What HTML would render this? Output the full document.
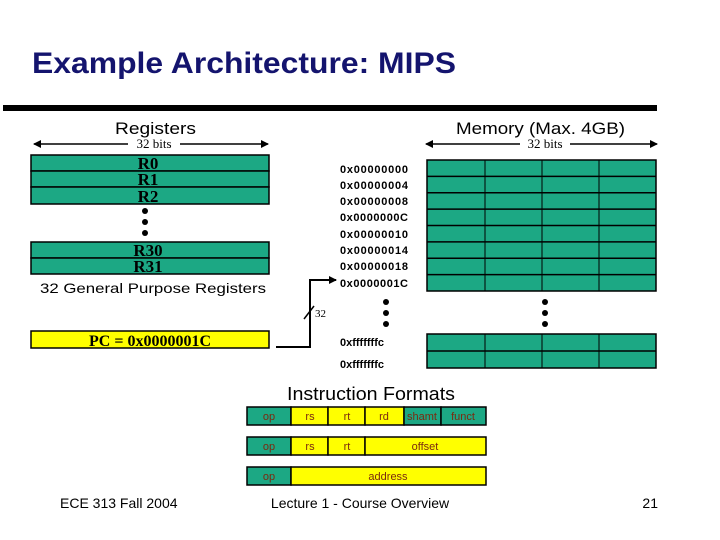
<!DOCTYPE html>
<html><head><meta charset="utf-8"><style>
html,body{margin:0;padding:0;background:#fff;}
svg{display:block;}
</style></head><body>
<svg width="720" height="540" viewBox="0 0 720 540" xmlns="http://www.w3.org/2000/svg" font-family="Liberation Sans, sans-serif">
<defs><marker id="ah" markerWidth="8" markerHeight="8" refX="7" refY="4" orient="auto" markerUnits="userSpaceOnUse"><path d="M0,0 L8,4 L0,8 z" fill="#000"/></marker></defs>
<text x="32" y="73" font-size="30" font-weight="bold" fill="#14146e" textLength="424" lengthAdjust="spacingAndGlyphs">Example Architecture: MIPS</text>
<rect x="3" y="105" width="654" height="6" fill="#000"/>
<text x="115" y="134" font-size="17" textLength="81" lengthAdjust="spacingAndGlyphs">Registers</text>
<text x="456" y="134" font-size="17" textLength="169" lengthAdjust="spacingAndGlyphs">Memory (Max. 4GB)</text>
<g stroke="#000" stroke-width="1.5">
<line x1="128" y1="144" x2="34" y2="144" marker-end="url(#ah)"/><line x1="180" y1="144" x2="268" y2="144" marker-end="url(#ah)"/>
<line x1="520" y1="144" x2="426" y2="144" marker-end="url(#ah)"/><line x1="570" y1="144" x2="657" y2="144" marker-end="url(#ah)"/>
</g>
<g font-family="Liberation Serif, serif" font-size="13" text-anchor="middle"><text x="154" y="148">32 bits</text><text x="545" y="148">32 bits</text></g>
<g fill="#1ca884" stroke="#000" stroke-width="1.5">
<rect x="31" y="155" width="238" height="16"/><rect x="31" y="171" width="238" height="16"/><rect x="31" y="187" width="238" height="17"/>
<rect x="31" y="242" width="238" height="16"/><rect x="31" y="258" width="238" height="16"/>
</g>
<g font-family="Liberation Serif, serif" font-size="17" font-weight="bold" text-anchor="middle" fill="#000">
<text x="148" y="169">R0</text><text x="148" y="185">R1</text><text x="148" y="202">R2</text><text x="148" y="256">R30</text><text x="148" y="272">R31</text>
</g>
<g fill="#000"><circle cx="145" cy="211" r="3"/><circle cx="145" cy="222" r="3"/><circle cx="145" cy="233" r="3"/>
<circle cx="386" cy="302" r="3"/><circle cx="386" cy="313" r="3"/><circle cx="386" cy="324" r="3"/>
<circle cx="545" cy="302" r="3"/><circle cx="545" cy="313" r="3"/><circle cx="545" cy="324" r="3"/></g>
<text x="40" y="293" font-size="14" textLength="226" lengthAdjust="spacingAndGlyphs">32 General Purpose Registers</text>
<rect x="31" y="331" width="238" height="17" fill="#ffff00" stroke="#000" stroke-width="1.5"/>
<text x="150" y="346" font-family="Liberation Serif, serif" font-size="16" font-weight="bold" text-anchor="middle">PC = 0x0000001C</text>
<polyline points="276,347 310,347 310,280 336,280" fill="none" stroke="#000" stroke-width="2" marker-end="url(#ah)"/>
<line x1="304" y1="319" x2="314" y2="306" stroke="#000" stroke-width="1.5"/>
<text x="315" y="317" font-family="Liberation Serif, serif" font-size="11">32</text>
<g font-size="11" font-weight="bold" fill="#000" lengthAdjust="spacingAndGlyphs">
<text x="340" y="173" textLength="68">0x00000000</text><text x="340" y="189" textLength="68">0x00000004</text><text x="340" y="205" textLength="68">0x00000008</text><text x="340" y="221" textLength="68">0x0000000C</text>
<text x="340" y="238" textLength="68">0x00000010</text><text x="340" y="254" textLength="68">0x00000014</text><text x="340" y="270" textLength="68">0x00000018</text><text x="340" y="287" textLength="68">0x0000001C</text>
<text x="340" y="346">0xfffffffc</text><text x="340" y="368">0xfffffffc</text>
</g>
<g stroke="#000" stroke-width="1.5">
<rect x="427" y="160" width="229" height="131" fill="#1ca884"/>
<rect x="427" y="334" width="229" height="34" fill="#1ca884"/>
<g stroke-width="1"><line x1="485" y1="160" x2="485" y2="291"/><line x1="542" y1="160" x2="542" y2="291"/><line x1="599" y1="160" x2="599" y2="291"/>
<line x1="485" y1="334" x2="485" y2="368"/><line x1="542" y1="334" x2="542" y2="368"/><line x1="599" y1="334" x2="599" y2="368"/></g>
<line x1="427" y1="176.4" x2="656" y2="176.4"/><line x1="427" y1="192.8" x2="656" y2="192.8"/><line x1="427" y1="209.1" x2="656" y2="209.1"/>
<line x1="427" y1="225.5" x2="656" y2="225.5"/><line x1="427" y1="241.9" x2="656" y2="241.9"/><line x1="427" y1="258.3" x2="656" y2="258.3"/><line x1="427" y1="274.6" x2="656" y2="274.6"/>
<line x1="427" y1="351" x2="656" y2="351"/>
</g>
<text x="287" y="400" font-size="18" textLength="168" lengthAdjust="spacingAndGlyphs">Instruction Formats</text>
<g stroke="#000" stroke-width="1.5">
<rect x="247" y="407" width="44" height="18" fill="#1ca884"/><rect x="291" y="407" width="37" height="18" fill="#ffff00"/><rect x="328" y="407" width="37" height="18" fill="#ffff00"/><rect x="365" y="407" width="39" height="18" fill="#ffff00"/><rect x="404" y="407" width="37" height="18" fill="#1ca884"/><rect x="441" y="407" width="45" height="18" fill="#1ca884"/>
<rect x="247" y="437" width="44" height="18" fill="#1ca884"/><rect x="291" y="437" width="37" height="18" fill="#ffff00"/><rect x="328" y="437" width="37" height="18" fill="#ffff00"/><rect x="365" y="437" width="121" height="18" fill="#ffff00"/>
<rect x="247" y="467" width="44" height="18" fill="#1ca884"/><rect x="291" y="467" width="195" height="18" fill="#ffff00"/>
</g>
<g font-size="11" fill="#7a2a10" text-anchor="middle">
<text x="269" y="420">op</text><text x="310" y="420">rs</text><text x="347" y="420">rt</text><text x="384" y="420">rd</text><text x="422" y="420">shamt</text><text x="463" y="420">funct</text>
<text x="269" y="450">op</text><text x="310" y="450">rs</text><text x="347" y="450">rt</text><text x="425" y="450">offset</text>
<text x="269" y="480">op</text><text x="388" y="480">address</text>
</g>
<g font-size="14" fill="#000"><text x="60" y="508">ECE 313 Fall 2004</text><text x="360" y="508" text-anchor="middle">Lecture 1 - Course Overview</text><text x="658" y="508" text-anchor="end">21</text></g>
</svg>
</body></html>
